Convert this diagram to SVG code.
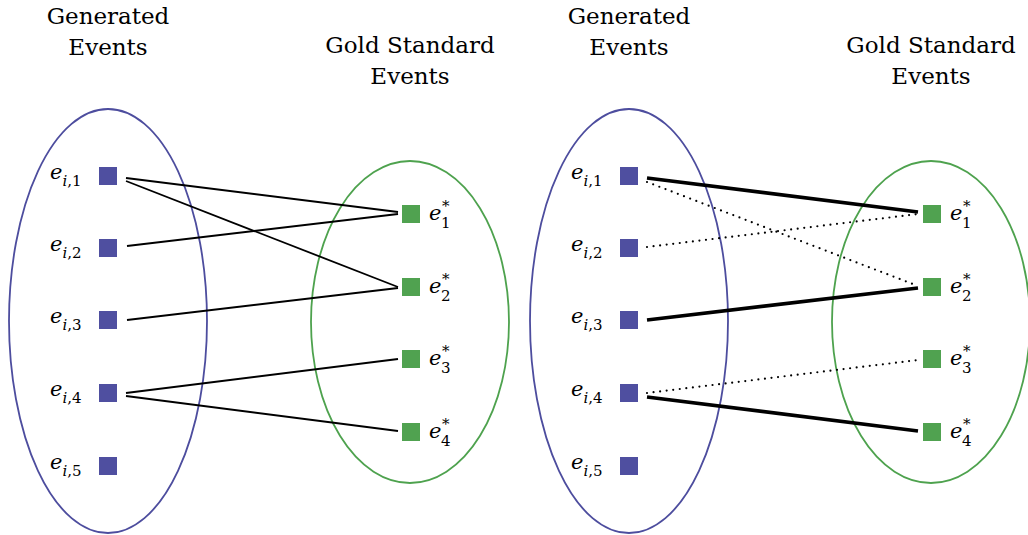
<svg xmlns="http://www.w3.org/2000/svg" width="1028" height="535" viewBox="0 0 1028 535">
<defs>
<style>
.t{font-size:23px;text-anchor:middle}
.m{font-size:21px;font-style:italic}
.s{font-size:15px;font-style:normal}
.si{font-size:15px;font-style:italic}
.be{fill:none;stroke:#4d4d9e;stroke-width:1.8}
.ge{fill:none;stroke:#4ea24e;stroke-width:1.8}
.bs{fill:#4f4fa0}
.gs{fill:#50a250}
.ln{stroke:#000;stroke-width:1.8;fill:none}
.th{stroke:#000;stroke-width:3.6;fill:none}
.dt{stroke:#000;stroke-width:2.2;fill:none;stroke-dasharray:0 6.6;stroke-linecap:round}
</style>
</defs>
<g font-family="DejaVu Serif, serif" fill="#000">
<g id="left">
<g id="L-gen-title"><text class="t" x="108" y="24">Generated</text><text class="t" x="108" y="55">Events</text></g>
<g id="L-gold-title"><text class="t" x="410" y="53">Gold Standard</text><text class="t" x="410" y="84">Events</text></g>
<g id="L-gen-ellipse"><ellipse class="be" cx="108" cy="321" rx="99" ry="212"/></g>
<g id="L-gold-ellipse"><ellipse class="ge" cx="410" cy="322" rx="99" ry="161"/></g>
<g id="L-ei1"><rect class="bs" x="99" y="167" width="18" height="18"/><text class="m" x="50" y="179">e<tspan class="si" dy="7">i</tspan><tspan class="s">,1</tspan></text></g>
<g id="L-ei2"><rect class="bs" x="99" y="239" width="18" height="18"/><text class="m" x="50" y="251">e<tspan class="si" dy="7">i</tspan><tspan class="s">,2</tspan></text></g>
<g id="L-ei3"><rect class="bs" x="99" y="311" width="18" height="18"/><text class="m" x="50" y="323">e<tspan class="si" dy="7">i</tspan><tspan class="s">,3</tspan></text></g>
<g id="L-ei4"><rect class="bs" x="99" y="384" width="18" height="18"/><text class="m" x="50" y="396">e<tspan class="si" dy="7">i</tspan><tspan class="s">,4</tspan></text></g>
<g id="L-ei5"><rect class="bs" x="99" y="457" width="18" height="18"/><text class="m" x="50" y="469">e<tspan class="si" dy="7">i</tspan><tspan class="s">,5</tspan></text></g>
<g id="L-g1"><rect class="gs" x="402" y="205" width="18" height="18"/><text class="m" x="429" y="220">e<tspan class="s" x="442" dy="-9">*</tspan><tspan class="s" x="441" dy="17">1</tspan></text></g>
<g id="L-g2"><rect class="gs" x="402" y="278" width="18" height="18"/><text class="m" x="429" y="293">e<tspan class="s" x="442" dy="-9">*</tspan><tspan class="s" x="441" dy="17">2</tspan></text></g>
<g id="L-g3"><rect class="gs" x="402" y="350" width="18" height="18"/><text class="m" x="429" y="365">e<tspan class="s" x="442" dy="-9">*</tspan><tspan class="s" x="441" dy="17">3</tspan></text></g>
<g id="L-g4"><rect class="gs" x="402" y="423" width="18" height="18"/><text class="m" x="429" y="438">e<tspan class="s" x="442" dy="-9">*</tspan><tspan class="s" x="441" dy="17">4</tspan></text></g>
</g>
<g id="L-connectors">
<line class="ln" x1="126" y1="178" x2="398" y2="212"/>
<line class="ln" x1="126" y1="181" x2="398" y2="287"/>
<line class="ln" x1="127" y1="246" x2="398" y2="214"/>
<line class="ln" x1="127" y1="320" x2="398" y2="288"/>
<line class="ln" x1="126" y1="393" x2="398" y2="359"/>
<line class="ln" x1="126" y1="396" x2="398" y2="431"/>
</g>
<g id="right">
<g id="R-gen-title"><text class="t" x="629" y="24">Generated</text><text class="t" x="629" y="55">Events</text></g>
<g id="R-gold-title"><text class="t" x="931" y="53">Gold Standard</text><text class="t" x="931" y="84">Events</text></g>
<g id="R-gen-ellipse"><ellipse class="be" cx="629" cy="321" rx="99" ry="212"/></g>
<g id="R-gold-ellipse"><ellipse class="ge" cx="931" cy="322" rx="99" ry="161"/></g>
<g id="R-ei1"><rect class="bs" x="620" y="167" width="18" height="18"/><text class="m" x="571" y="179">e<tspan class="si" dy="7">i</tspan><tspan class="s">,1</tspan></text></g>
<g id="R-ei2"><rect class="bs" x="620" y="239" width="18" height="18"/><text class="m" x="571" y="251">e<tspan class="si" dy="7">i</tspan><tspan class="s">,2</tspan></text></g>
<g id="R-ei3"><rect class="bs" x="620" y="311" width="18" height="18"/><text class="m" x="571" y="323">e<tspan class="si" dy="7">i</tspan><tspan class="s">,3</tspan></text></g>
<g id="R-ei4"><rect class="bs" x="620" y="384" width="18" height="18"/><text class="m" x="571" y="396">e<tspan class="si" dy="7">i</tspan><tspan class="s">,4</tspan></text></g>
<g id="R-ei5"><rect class="bs" x="620" y="457" width="18" height="18"/><text class="m" x="571" y="469">e<tspan class="si" dy="7">i</tspan><tspan class="s">,5</tspan></text></g>
<g id="R-g1"><rect class="gs" x="923" y="205" width="18" height="18"/><text class="m" x="950" y="220">e<tspan class="s" x="963" dy="-9">*</tspan><tspan class="s" x="962" dy="17">1</tspan></text></g>
<g id="R-g2"><rect class="gs" x="923" y="278" width="18" height="18"/><text class="m" x="950" y="293">e<tspan class="s" x="963" dy="-9">*</tspan><tspan class="s" x="962" dy="17">2</tspan></text></g>
<g id="R-g3"><rect class="gs" x="923" y="350" width="18" height="18"/><text class="m" x="950" y="365">e<tspan class="s" x="963" dy="-9">*</tspan><tspan class="s" x="962" dy="17">3</tspan></text></g>
<g id="R-g4"><rect class="gs" x="923" y="423" width="18" height="18"/><text class="m" x="950" y="438">e<tspan class="s" x="963" dy="-9">*</tspan><tspan class="s" x="962" dy="17">4</tspan></text></g>
</g>
<g id="R-connectors">
<line class="th" x1="647" y1="178" x2="918" y2="212"/>
<line class="dt" x1="647" y1="182" x2="918" y2="286"/>
<line class="dt" x1="647" y1="247" x2="918" y2="214"/>
<line class="th" x1="647" y1="320" x2="918" y2="288"/>
<line class="dt" x1="647" y1="393" x2="918" y2="360"/>
<line class="th" x1="647" y1="397" x2="918" y2="431"/>
</g>
</g>
</svg>
